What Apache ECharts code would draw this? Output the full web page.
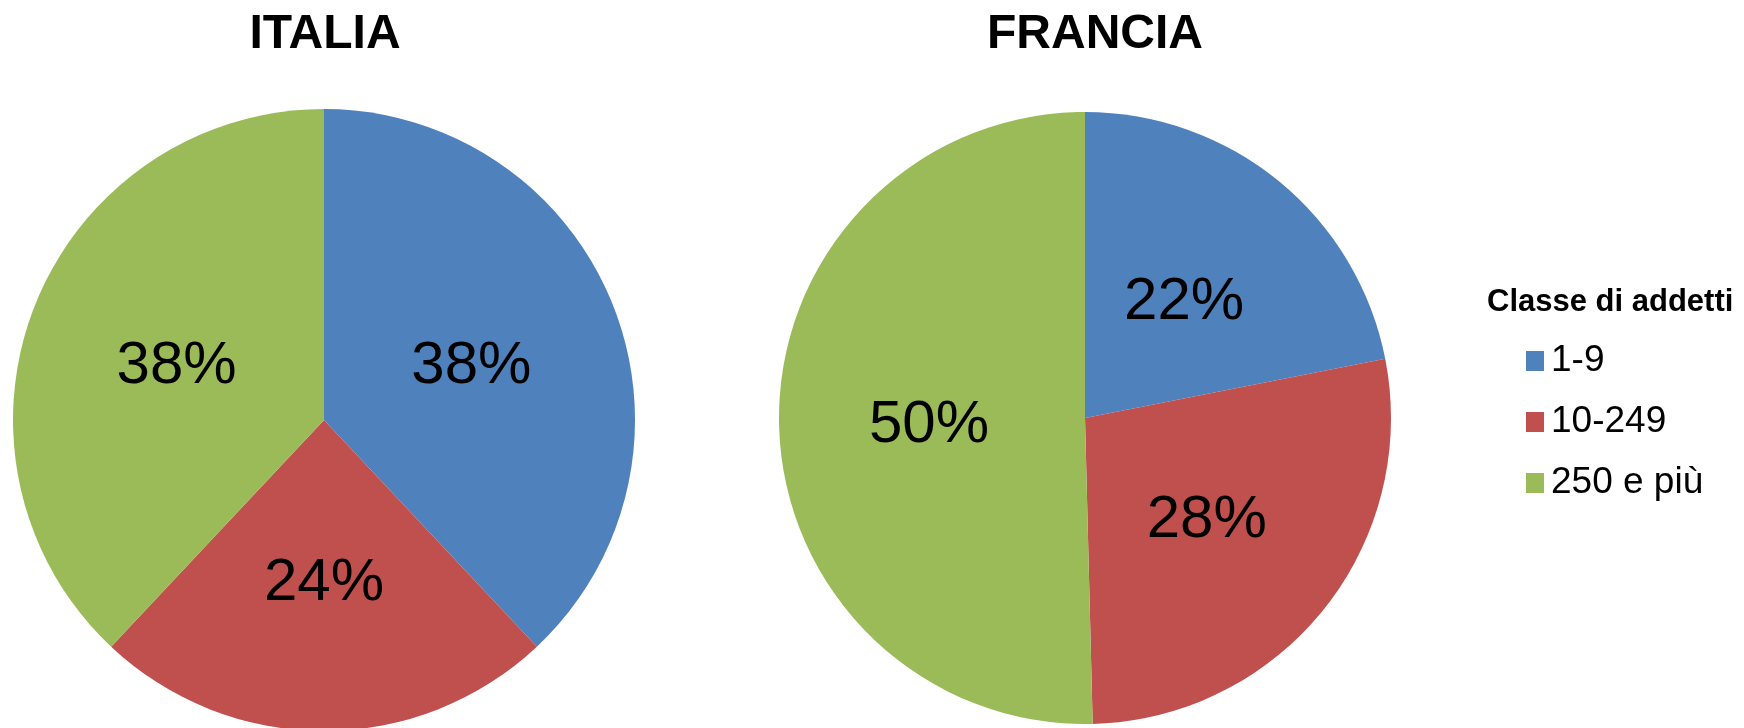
<!DOCTYPE html>
<html>
<head>
<meta charset="utf-8">
<script src="https://cdn.jsdelivr.net/npm/echarts@6/dist/echarts.min.js"></script>
<style>
html,body{margin:0;padding:0;background:#fff;}
#chart{width:1744px;height:728px;}
</style>
</head>
<body>
<div id="chart"></div>
<script>
const categories = ['1-9', '10-249', '250 e più'];
const italiaValues = [38, 24, 38];
const franciaValues = [21.9, 27.7, 50.4];
const chartTitles = ['ITALIA', 'FRANCIA'];
const legendTitle = 'Classe di addetti';
const colors = ['#4F81BD', '#C0504D', '#9BBB59'];

const FONT = '"Liberation Sans", Arial, sans-serif';

function makeData(values) {
  return categories.map((c, i) => ({ name: c, value: values[i] }));
}

function pieSeries(name, values, center, radius) {
  return {
    name: name,
    type: 'pie',
    center: center,
    radius: radius,
    startAngle: 90,
    clockwise: true,
    avoidLabelOverlap: false,
    silent: true,
    animation: false,
    itemStyle: { borderWidth: 0 },
    label: {
      show: true,
      position: 'inside',
      formatter: p => Math.round(p.value) + '%',
      color: '#000',
      fontFamily: FONT,
      fontSize: 60,
      fontWeight: 'normal',
      offset: [0, 5]
    },
    labelLine: { show: false },
    data: makeData(values)
  };
}

const chart = echarts.init(document.getElementById('chart'), null, { renderer: 'canvas' });
chart.setOption({
  backgroundColor: '#ffffff',
  color: colors,
  title: [
    { text: chartTitles[0], left: 325, top: 35, textAlign: 'center', textVerticalAlign: 'middle', padding: 0,
      textStyle: { fontFamily: FONT, fontSize: 48, fontWeight: 'bold', color: '#000' } },
    { text: chartTitles[1], left: 1095, top: 35, textAlign: 'center', textVerticalAlign: 'middle', padding: 0,
      textStyle: { fontFamily: FONT, fontSize: 48, fontWeight: 'bold', color: '#000' } },
    { text: legendTitle, left: 1487, top: 302, textVerticalAlign: 'middle', padding: 0,
      textStyle: { fontFamily: FONT, fontSize: 31, fontWeight: 'bold', color: '#000' } }
  ],
  legend: {
    orient: 'vertical',
    left: 1526,
    top: 341,
    padding: 0,
    itemWidth: 18,
    itemHeight: 20,
    itemGap: 21,
    icon: 'rect',
    selectedMode: false,
    data: categories,
    textStyle: { fontFamily: FONT, fontSize: 37, color: '#000', lineHeight: 40, padding: [0, 0, 0, 2] }
  },
  series: [
    pieSeries(chartTitles[0], italiaValues, [324, 420], [0, 311]),
    pieSeries(chartTitles[1], franciaValues, [1085, 418], [0, 306])
  ]
});
</script>
</body>
</html>
